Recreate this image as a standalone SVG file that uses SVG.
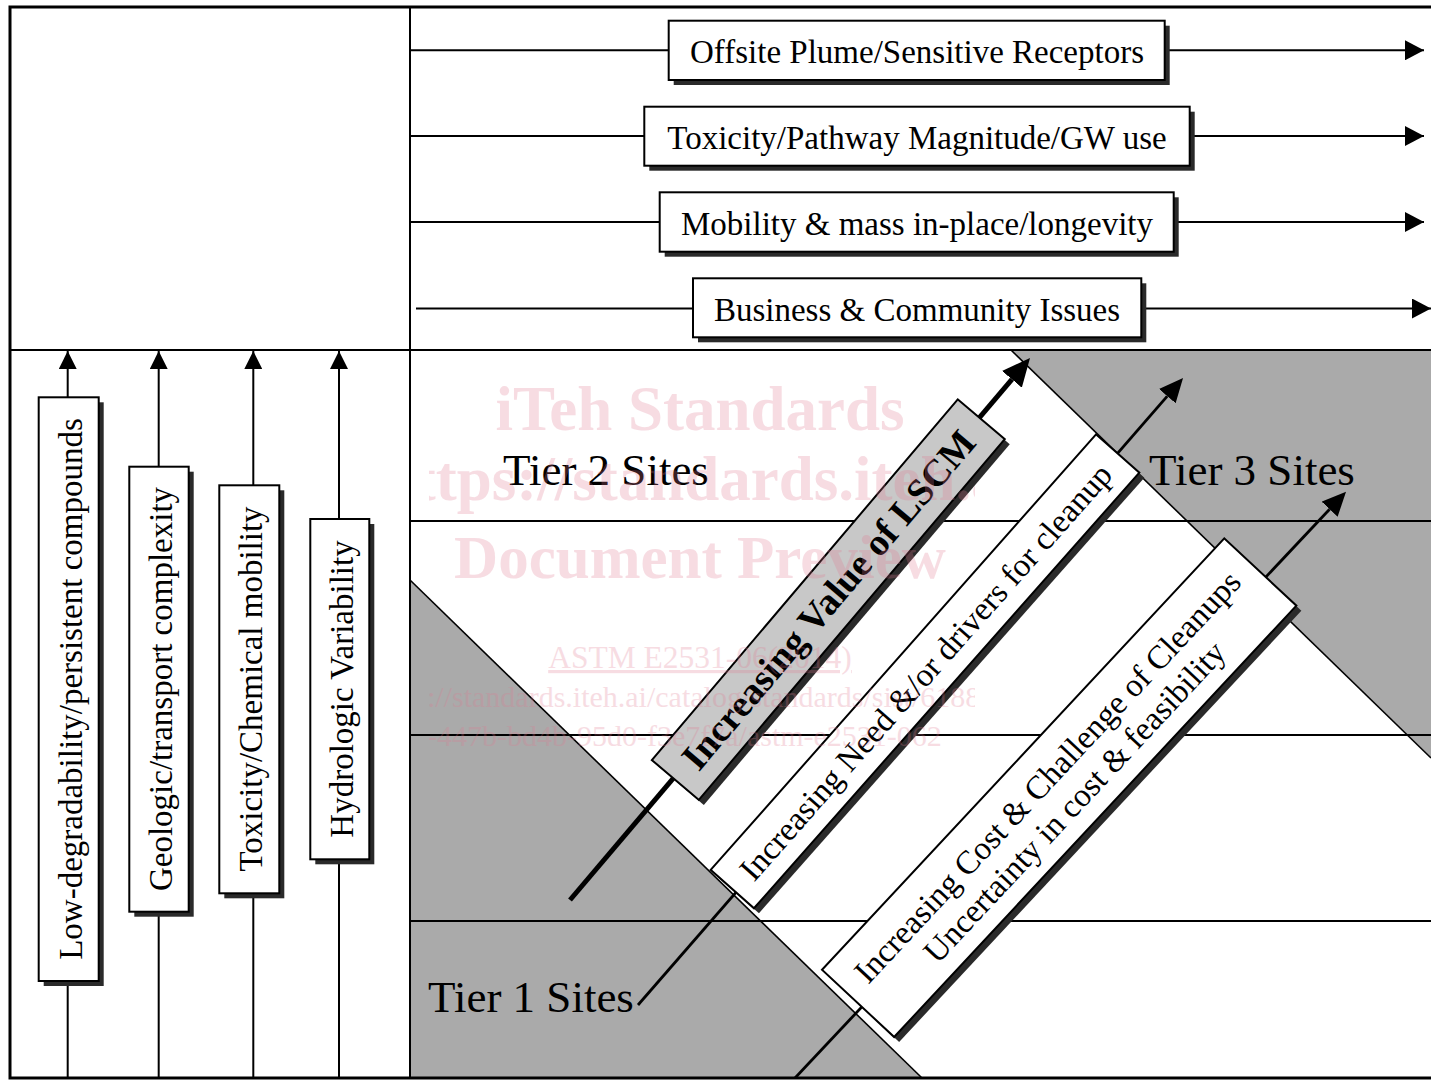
<svg xmlns="http://www.w3.org/2000/svg" width="1431" height="1081" viewBox="0 0 1431 1081">
<style>
text{font-family:"Liberation Serif","Times New Roman",serif;fill:#000}
.lbl{font-size:33px}
.tier{font-size:45px}
.box{fill:#fff;stroke:#000;stroke-width:2}
.gbox{fill:#c8c8c8;stroke:#000;stroke-width:2}
.shadow{fill:#2a2a2a}
.ln{stroke:#000;stroke-width:2;fill:none}
.gray{fill:#aaaaaa}
.edge{stroke:#000;stroke-width:1.6;fill:none}
.wm{fill:#e07890;opacity:0.25}
</style>
<defs>
<marker id="ah" markerUnits="userSpaceOnUse" markerWidth="20" markerHeight="20" refX="19" refY="10" orient="auto"><path d="M0,0 L19,10 L0,20 z" fill="#000"/></marker>
<marker id="ahv" markerUnits="userSpaceOnUse" markerWidth="18" markerHeight="18" refX="18" refY="9" orient="auto"><path d="M0,0 L18,9 L0,18 z" fill="#000"/></marker>
<marker id="ahBig" markerUnits="userSpaceOnUse" markerWidth="28" markerHeight="26" refX="0" refY="13" orient="auto"><path d="M0,0 L28,13 L0,26 z" fill="#000"/></marker>
<marker id="ahMed" markerUnits="userSpaceOnUse" markerWidth="24" markerHeight="22" refX="0" refY="11" orient="auto"><path d="M0,0 L24,11 L0,22 z" fill="#000"/></marker>
<clipPath id="wmclip"><rect x="429" y="370" width="546" height="400"/></clipPath>
<clipPath id="frameclip"><rect x="10" y="7" width="1425" height="1071"/></clipPath>
</defs>

<rect x="0" y="0" width="1431" height="1081" fill="#fff"/>

<!-- background regions -->
<g id="regions">
<polygon class="gray" points="410,580 922,1078 410,1078"/>
<polygon class="gray" points="1011,350 1431,350 1431,758"/>
<line class="edge" x1="410" y1="580" x2="922" y2="1078"/>
<line class="edge" x1="1011" y1="350" x2="1431" y2="758"/>
<line class="ln" x1="410" y1="521" x2="1431" y2="521"/>
<line class="ln" x1="410" y1="735" x2="1431" y2="735"/>
<line class="ln" x1="410" y1="921" x2="1431" y2="921"/>
</g>

<!-- frame -->
<g id="frame">
<rect x="10" y="7" width="1428" height="1071" fill="none" stroke="#000" stroke-width="3"/>
<line x1="410" y1="7" x2="410" y2="1078" stroke="#000" stroke-width="2"/>
<line x1="10" y1="350" x2="1431" y2="350" stroke="#000" stroke-width="2"/>
</g>

<!-- connectors -->
<g id="connectors" clip-path="url(#frameclip)">
<line class="ln" x1="410" y1="50.3" x2="1424" y2="50.3" marker-end="url(#ah)"/>
<line class="ln" x1="410" y1="136" x2="1424" y2="136" marker-end="url(#ah)"/>
<line class="ln" x1="410" y1="222" x2="1424" y2="222" marker-end="url(#ah)"/>
<line class="ln" x1="416" y1="308.5" x2="1431" y2="308.5" marker-end="url(#ah)"/>
<line class="ln" x1="67.7" y1="1078" x2="67.7" y2="351" marker-end="url(#ahv)"/>
<line class="ln" x1="158.7" y1="1078" x2="158.7" y2="351" marker-end="url(#ahv)"/>
<line class="ln" x1="253.3" y1="1078" x2="253.3" y2="351" marker-end="url(#ahv)"/>
<line class="ln" x1="339" y1="1078" x2="339" y2="351" marker-end="url(#ahv)"/>
<line x1="570" y1="900" x2="1011.9" y2="379.3" stroke="#000" stroke-width="5" marker-end="url(#ahBig)"/>
<line x1="638" y1="1005" x2="1167.3" y2="396.1" stroke="#000" stroke-width="2.8" marker-end="url(#ahMed)"/>
<line x1="795" y1="1078" x2="1329.6" y2="509.2" stroke="#000" stroke-width="2.8" marker-end="url(#ahMed)"/>
</g>

<!-- top factor boxes -->
<g id="n-offsite">
<rect class="shadow" x="673.7" y="25.7" width="496" height="59.3"/>
<rect class="box" x="668.7" y="20.7" width="496" height="59.3"/>
<text class="lbl" x="917" y="63.3" text-anchor="middle">Offsite Plume/Sensitive Receptors</text>
</g>
<g id="n-toxicity-pathway">
<rect class="shadow" x="649.3" y="111.7" width="545.4" height="59"/>
<rect class="box" x="644.3" y="106.7" width="545.4" height="59"/>
<text class="lbl" x="917" y="149.2" text-anchor="middle">Toxicity/Pathway Magnitude/GW use</text>
</g>
<g id="n-mobility">
<rect class="shadow" x="664.7" y="197.3" width="514" height="59.4"/>
<rect class="box" x="659.7" y="192.3" width="514" height="59.4"/>
<text class="lbl" x="917" y="235" text-anchor="middle">Mobility &amp; mass in-place/longevity</text>
</g>
<g id="n-business">
<rect class="shadow" x="698" y="283.3" width="448.3" height="59"/>
<rect class="box" x="693" y="278.3" width="448.3" height="59"/>
<text class="lbl" x="917" y="320.8" text-anchor="middle">Business &amp; Community Issues</text>
</g>

<!-- left vertical boxes -->
<g id="n-lowdeg">
<rect class="shadow" x="43.7" y="402.3" width="60" height="583.7"/>
<rect class="box" x="38.7" y="397.3" width="60" height="583.7"/>
<text class="lbl" transform="translate(68.7,689) rotate(-90)" x="0" y="13" text-anchor="middle">Low-degradability/persistent compounds</text>
</g>
<g id="n-geologic">
<rect class="shadow" x="134.3" y="471.7" width="59.4" height="445"/>
<rect class="box" x="129.3" y="466.7" width="59.4" height="445"/>
<text class="lbl" transform="translate(159,689) rotate(-90)" x="0" y="13" text-anchor="middle">Geologic/transport complexity</text>
</g>
<g id="n-toxchem">
<rect class="shadow" x="224.3" y="490.3" width="60" height="408"/>
<rect class="box" x="219.3" y="485.3" width="60" height="408"/>
<text class="lbl" transform="translate(249.3,689) rotate(-90)" x="0" y="13" text-anchor="middle">Toxicity/Chemical mobility</text>
</g>
<g id="n-hydro">
<rect class="shadow" x="315.3" y="524" width="59" height="340.3"/>
<rect class="box" x="310.3" y="519" width="59" height="340.3"/>
<text class="lbl" transform="translate(339.8,689) rotate(-90)" x="0" y="13" text-anchor="middle">Hydrologic Variability</text>
</g>

<!-- diagonal boxes -->
<g id="n-lscm">
<rect class="shadow" transform="translate(833.3,604.6) rotate(-49.7)" x="-236.5" y="-30.8" width="473" height="61.6"/>
<rect class="gbox" transform="translate(828.3,599.6) rotate(-49.7)" x="-236.5" y="-30.8" width="473" height="61.6"/>
<text transform="translate(828.3,599.6) rotate(-49.7)" x="0" y="13" text-anchor="middle" font-size="38" font-weight="bold">Increasing Value of LSCM</text>
</g>
<g id="n-need">
<rect class="shadow" transform="translate(930,676.3) rotate(-48.5)" x="-290.8" y="-28.9" width="581.6" height="57.8"/>
<rect class="box" transform="translate(925,671.3) rotate(-48.5)" x="-290.8" y="-28.9" width="581.6" height="57.8"/>
<text class="lbl" transform="translate(925,671.3) rotate(-48.5)" x="0" y="12" text-anchor="middle">Increasing Need &amp;/or drivers for cleanup</text>
</g>
<g id="n-cost">
<rect class="shadow" transform="translate(1064.2,792.7) rotate(-47)" x="-294.9" y="-49.3" width="589.8" height="98.6"/>
<rect class="box" transform="translate(1059.2,787.7) rotate(-47)" x="-294.9" y="-49.3" width="589.8" height="98.6"/>
<text class="lbl" transform="translate(1059.2,787.7) rotate(-47)" text-anchor="middle"><tspan x="0" y="-5">Increasing Cost &amp; Challenge of Cleanups</tspan><tspan x="0" y="32">Uncertainty in cost &amp; feasibility</tspan></text>
</g>

<!-- tier labels -->
<g id="n-tier2"><text class="tier" x="503" y="485">Tier 2 Sites</text></g>
<g id="n-tier3"><text class="tier" x="1149" y="485">Tier 3 Sites</text></g>
<g id="n-tier1"><text class="tier" x="428" y="1011.7">Tier 1 Sites</text></g>

<!-- watermark -->
<g id="watermark" clip-path="url(#wmclip)">
<text class="wm" x="700" y="430" font-size="63" font-weight="bold" text-anchor="middle">iTeh Standards</text>
<text class="wm" x="700" y="500" font-size="63" font-weight="bold" text-anchor="middle">(https://standards.iteh.ai)</text>
<text class="wm" x="700" y="578" font-size="61" font-weight="bold" text-anchor="middle">Document Preview</text>
<text class="wm" x="700" y="668" font-size="31.5" text-anchor="middle" text-decoration="underline">ASTM E2531-06(2014)</text>
<text class="wm" x="427" y="707" font-size="30">://standards.iteh.ai/catalog/standards/sist/6188</text>
<text class="wm" x="427" y="746" font-size="30">-447b-bd4b-95d0-f3e7f7a/astm-e2531-062</text>
</g>
</svg>
